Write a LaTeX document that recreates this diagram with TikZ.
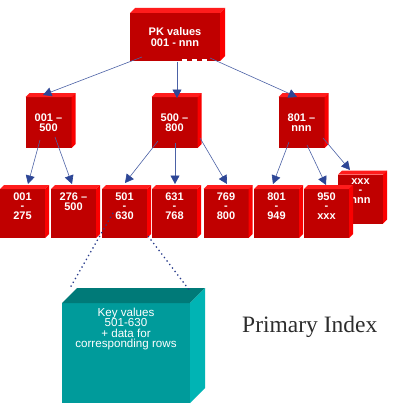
\documentclass[tikz,border=0pt]{standalone}
\usepackage{fontspec}
\setmainfont{Liberation Sans}
\newfontfamily\serifidx{Liberation Serif}
\usetikzlibrary{arrows.meta,calc}
\definecolor{redfront}{RGB}{192,0,0}
\definecolor{redtop}{RGB}{255,28,28}
\definecolor{redside}{RGB}{250,0,0}
\definecolor{tealfront}{RGB}{0,155,155}
\definecolor{tealtop}{RGB}{0,122,120}
\definecolor{tealside}{RGB}{0,180,180}
\definecolor{arrowblue}{RGB}{45,70,150}
\definecolor{dotblue}{RGB}{40,60,140}
\definecolor{idxgray}{RGB}{45,45,45}
\newcommand\boxfaces[4]{%
  \fill[#3] (#1.north west) -- ++(#2,-#2) -- ([shift={(#2,-#2)}]#1.north east) -- (#1.north east) -- cycle;
  \fill[#4] (#1.north east) -- ++(#2,-#2) -- ([shift={(#2,-#2)}]#1.south east) -- (#1.south east) -- cycle;}
\tikzset{
  redbox/.style={fill=redfront, draw=none, inner sep=0pt, outer sep=0pt, minimum width=45pt, minimum height=49pt},
  midbox/.style={redbox, minimum width=46pt, minimum height=51pt, text=white, align=center,
     font=\fontsize{11}{10.2}\selectfont\bfseries},
  topbox/.style={redbox, minimum width=90pt, minimum height=48pt, text=white, align=center,
     font=\fontsize{11}{10.2}\selectfont\bfseries},
  lab/.style={text=white, align=center, inner sep=0pt, anchor=north,
     font=\fontsize{11}{9.6}\selectfont\bfseries},
  tealbox/.style={fill=tealfront, draw=none, inner sep=0pt, outer sep=0pt, minimum width=128pt, minimum height=100pt},
  teallab/.style={text=white, align=center, inner sep=0pt, anchor=north,
     font=\fontsize{11.6}{10.6}\selectfont},
  conn/.style={draw=arrowblue!85, line width=0.6pt, -{Triangle[length=8.5pt,width=9pt,color=arrowblue,fill=arrowblue]}},
  dotline/.style={draw=dotblue, line width=1.3pt, dash pattern=on 1.3pt off 3.1pt},
}
\begin{document}
\begin{tikzpicture}[x=1pt,y=-1pt]
\fill[white] (0,0) rectangle (401,412);
\useasboundingbox (0,0) rectangle (401,412);

% top box
\node[topbox] (T) at (175,37) {PK values\\001 - nnn};
\boxfaces{T}{5}{redtop}{redside}
\fill[white] (182,59) rectangle (186.5,62);
\fill[white] (192,59) rectangle (196.5,62);
\fill[white] (202,59) rectangle (206.5,62);

% level 2
\node[midbox] (A) at (48.5,122.5) {001 –\\500};
\boxfaces{A}{4}{redtop}{redside}
\node[midbox] (B) at (174.5,122.5) {500 –\\800};
\boxfaces{B}{4}{redtop}{redside}
\node[midbox] (C) at (301.5,122.5) {801 –\\nnn};
\boxfaces{C}{4}{redtop}{redside}

% level 3 (b8 behind b7)
\node[redbox] (b8) at (360.5,199) {};
\boxfaces{b8}{4}{redtop}{redside}
\node[lab] (b8t) at ($(b8.north)+(0,3.5)$) {xxx\\-\\nnn};
\node[redbox] (b1) at (22.5,213.5) {};
\boxfaces{b1}{4}{redtop}{redside}
\node[lab] (b1t) at ($(b1.north)+(0,3.5)$) {001\\-\\275};
\node[redbox] (b2) at (73.5,213.5) {};
\boxfaces{b2}{4}{redtop}{redside}
\node[lab, font=\fontsize{11}{10}\selectfont\bfseries] (b2t) at ($(b2.north)+(0,3.5)$) {276 –\\500};
\node[redbox] (b3) at (124.5,213.5) {};
\boxfaces{b3}{4}{redtop}{redside}
\node[lab] (b3t) at ($(b3.north)+(0,3.5)$) {501\\-\\630};
\node[redbox] (b4) at (174.5,213.5) {};
\boxfaces{b4}{4}{redtop}{redside}
\node[lab] (b4t) at ($(b4.north)+(0,3.5)$) {631\\-\\768};
\node[redbox] (b5) at (226,213.5) {};
\boxfaces{b5}{4}{redtop}{redside}
\node[lab] (b5t) at ($(b5.north)+(0,3.5)$) {769\\-\\800};
\node[redbox] (b6) at (276.5,213.5) {};
\boxfaces{b6}{4}{redtop}{redside}
\node[lab] (b6t) at ($(b6.north)+(0,3.5)$) {801\\-\\949};
\node[redbox] (b7) at (326.5,213.5) {};
\boxfaces{b7}{4}{redtop}{redside}
\node[lab] (b7t) at ($(b7.north)+(0,3.5)$) {950\\-\\xxx};

% teal box
\node[tealbox] (K) at (126,353) {};
\boxfaces{K}{15}{tealtop}{tealside}
\node[teallab] (Kt) at ($(K.north)+(0,4.5)$) {Key values\\501-630\\+ data for\\corresponding rows};

% connectors
\draw[conn] ($(T)+(-33,20)$) -- ($(A)+(-5.5,-27.5)$);
\draw[conn] ($(T)+(2,25)$) -- ($(B)+(2.5,-24.5)$);
\draw[conn] ($(T)+(35,21)$) -- ($(C)+(-4.5,-25.5)$);
\draw[conn] ($(A)+(-8.5,17.5)$) -- ($(b1)+(5.5,-29.5)$);
\draw[conn] ($(A)+(6.5,14.5)$) -- ($(b2)+(-1.5,-29.5)$);
\draw[conn] ($(B)+(-16.5,18.5)$) -- ($(b3)+(0.5,-30.5)$);
\draw[conn] ($(B)+(0.5,20.5)$) -- ($(b4)+(0.5,-29.5)$);
\draw[conn] ($(B)+(25.5,15.5)$) -- ($(b5)+(1,-29.5)$);
\draw[conn] ($(C)+(-12.5,19.5)$) -- ($(b6)+(-3.5,-29.5)$);
\draw[conn] ($(C)+(5.5,22.5)$) -- ($(b7)+(-0.5,-28.5)$);
\draw[conn] ($(C)+(21.5,15.5)$) -- ($(b8)+(-10.5,-29)$);

% dotted lines
\draw[dotline] ($(b3)+(-11.5,-0.5)$) -- ($(K)+(-56,-65)$);
\draw[dotline] ($(b3)+(23.5,22.5)$) -- ($(K)+(64,-62)$);

% caption
\node[anchor=base west, inner sep=0pt, text=idxgray, font=\serifidx\fontsize{23.5}{26}\selectfont] (P) at (242,332) {Primary Index};
\end{tikzpicture}
\end{document}
